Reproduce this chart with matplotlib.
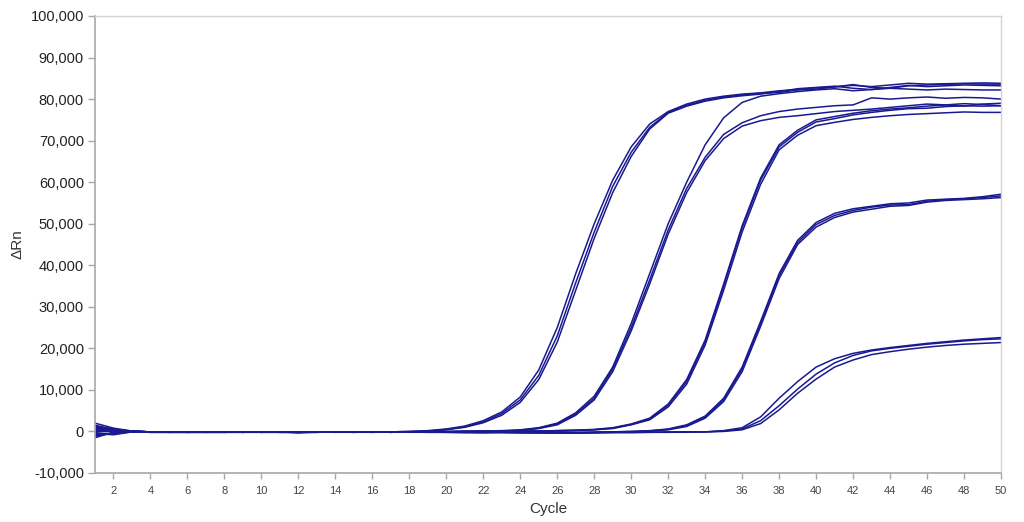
import matplotlib
matplotlib.use("Agg")
import matplotlib.pyplot as plt
from matplotlib.ticker import FuncFormatter
import numpy as np

cycles = list(range(1, 51))

# Delta Rn values in thousands, one list per well
A1 = [2.0,0.8,0.1,-0.2,-0.2,-0.2,-0.1,-0.1,-0.2,-0.2,-0.1,-0.3,-0.1,-0.1,-0.1,-0.1,-0.1,0.0,
      0.2,0.6,1.3,2.6,4.7,8.3,14.8,25.0,38.0,50.0,60.5,68.5,74.0,77.0,78.8,80.0,80.7,81.2,81.5,82.0,
      82.3,82.7,83.0,83.3,83.0,83.4,83.8,83.6,83.7,83.8,83.9,83.8]
A2 = [-0.8,-0.5,0.0,-0.1,-0.2,-0.2,-0.2,-0.1,-0.1,-0.2,-0.2,-0.2,-0.1,-0.1,-0.2,-0.1,-0.1,0.0,
      0.1,0.5,1.1,2.3,4.3,7.6,13.5,23.0,35.8,48.0,59.0,67.2,73.2,76.8,78.5,79.7,80.5,81.0,81.4,81.6,
      82.2,82.4,82.9,83.5,82.8,82.6,83.2,83.4,83.5,83.7,83.6,83.6]
A3 = [0.5,0.3,0.0,-0.1,-0.1,-0.2,-0.2,-0.2,-0.1,-0.1,-0.2,-0.2,-0.2,-0.1,-0.1,-0.1,-0.2,-0.1,
      0.0,0.4,1.0,2.1,3.9,7.0,12.5,21.5,34.0,46.5,57.5,66.2,72.8,76.6,78.3,79.5,80.3,80.8,81.2,81.8,
      82.5,82.8,83.1,82.6,82.3,82.8,83.3,83.0,83.2,83.4,83.3,83.2]
B1 = [1.5,0.5,0.1,-0.1,-0.1,-0.2,-0.1,-0.1,-0.1,-0.2,-0.1,-0.2,-0.1,-0.1,-0.1,-0.1,-0.1,-0.1,
      0.0,0.0,0.1,0.1,0.2,
      0.4,0.9,2.0,4.5,8.5,15.5,26.0,38.0,50.0,60.0,69.0,75.5,79.2,80.7,81.3,81.8,82.2,82.5,82.0,
      82.3,82.6,82.4,82.2,82.4,82.3,82.2,82.2]
B2 = [-1.2,-0.3,-0.1,-0.2,-0.2,-0.1,-0.2,-0.2,-0.1,-0.1,-0.2,-0.2,-0.1,-0.2,-0.2,-0.1,-0.1,-0.1,
      -0.1,0.0,0.0,0.1,0.1,
      0.3,0.8,1.8,4.2,8.0,15.0,25.0,36.5,48.5,58.5,66.0,71.5,74.3,76.0,77.0,77.6,78.0,78.4,78.6,
      80.3,80.0,80.3,80.5,80.2,80.4,80.3,80.0]
B3 = [0.0,0.2,0.0,-0.1,-0.2,-0.2,-0.1,-0.1,-0.2,-0.2,-0.1,-0.1,-0.2,-0.1,-0.1,-0.2,-0.1,-0.1,
      -0.1,-0.1,0.0,0.0,0.1,
      0.2,0.7,1.6,3.9,7.6,14.4,24.2,35.5,47.5,57.5,65.2,70.5,73.5,74.8,75.6,76.0,76.5,77.0,77.3,
      77.6,78.0,78.4,78.8,78.6,78.9,78.7,78.4]
C1 = [1.0,0.3,0.0,-0.1,-0.1,-0.1,-0.2,-0.2,-0.1,-0.1,-0.1,-0.2,-0.1,-0.1,-0.1,-0.2,-0.1,-0.1,
      0.0,-0.1,-0.1,0.0,0.0,0.1,0.1,0.2,0.3,0.5,
      0.9,1.8,3.2,6.6,12.5,22.0,35.5,49.5,61.0,69.0,72.5,75.0,75.8,76.6,77.2,77.6,77.9,78.3,78.6,
      78.3,78.8,79.0]
C2 = [-0.5,-0.8,-0.1,-0.2,-0.2,-0.1,-0.1,-0.2,-0.2,-0.1,-0.1,-0.3,-0.2,-0.1,-0.1,-0.1,-0.2,-0.1,
      -0.1,-0.1,0.0,0.0,0.0,0.0,0.1,0.2,0.3,0.4,
      0.8,1.7,3.0,6.3,12.0,21.5,35.0,49.0,60.5,68.5,72.0,74.5,75.3,76.2,76.8,77.3,77.7,77.8,78.2,
      78.4,78.3,78.4]
C3 = [0.3,0.0,0.0,-0.1,-0.1,-0.2,-0.2,-0.1,-0.1,-0.2,-0.2,-0.2,-0.1,-0.1,-0.2,-0.1,-0.1,-0.1,
      -0.1,-0.1,-0.1,0.0,0.0,0.0,0.1,0.1,0.2,0.4,
      0.7,1.6,2.8,5.9,11.4,20.8,34.0,48.0,59.5,67.8,71.3,73.6,74.4,75.1,75.6,76.0,76.3,76.5,76.7,
      76.9,76.8,76.8]
D1 = [-1.5,-0.2,0.0,-0.1,-0.2,-0.2,-0.1,-0.1,-0.2,-0.1,-0.1,-0.2,-0.2,-0.1,-0.1,-0.1,-0.2,-0.1,
      -0.1,-0.2,-0.2,-0.2,-0.1,-0.2,-0.2,-0.3,-0.3,-0.2,-0.1,0.0,0.2,
      0.6,1.6,3.7,8.0,15.5,26.5,38.0,46.0,50.3,52.5,53.6,54.2,54.8,55.0,55.7,55.9,56.1,56.5,57.1]
D2 = [0.8,0.4,0.1,-0.1,-0.1,-0.2,-0.2,-0.1,-0.1,-0.1,-0.2,-0.2,-0.1,-0.1,-0.2,-0.2,-0.1,-0.1,
      -0.1,-0.1,-0.2,-0.2,-0.2,-0.3,-0.3,-0.2,-0.2,-0.2,-0.1,0.0,0.1,
      0.5,1.4,3.5,7.6,15.0,26.0,37.5,45.5,49.8,52.0,53.2,54.0,54.5,54.6,55.4,55.8,56.0,56.3,56.7]
D3 = [-0.3,-0.6,-0.1,-0.2,-0.2,-0.1,-0.1,-0.2,-0.2,-0.1,-0.1,-0.2,-0.1,-0.2,-0.1,-0.1,-0.1,-0.1,
      -0.2,-0.2,-0.2,-0.3,-0.2,-0.2,-0.3,-0.4,-0.4,-0.3,-0.2,-0.1,0.1,
      0.4,1.2,3.2,7.2,14.4,25.3,36.8,45.0,49.2,51.5,52.8,53.5,54.2,54.4,55.2,55.6,55.8,56.0,56.3]
E1 = [1.2,0.6,0.0,-0.1,-0.1,-0.2,-0.2,-0.2,-0.1,-0.1,-0.1,-0.2,-0.1,-0.1,-0.2,-0.1,-0.1,-0.2,
      -0.2,-0.2,-0.3,-0.2,-0.2,-0.3,-0.3,-0.2,-0.3,-0.3,-0.2,-0.2,-0.2,-0.1,-0.1,-0.1,
      0.2,0.9,3.5,8.0,12.0,15.5,17.5,18.8,19.6,20.2,20.7,21.2,21.6,22.0,22.3,22.6]
E2 = [-1.0,-0.4,0.0,-0.1,-0.2,-0.2,-0.1,-0.1,-0.1,-0.2,-0.2,-0.2,-0.1,-0.1,-0.1,-0.2,-0.1,-0.1,
      -0.1,-0.2,-0.2,-0.3,-0.2,-0.2,-0.3,-0.4,-0.4,-0.3,-0.3,-0.2,-0.2,-0.2,-0.1,-0.1,
      0.1,0.6,2.6,6.2,10.2,13.8,16.5,18.3,19.4,20.0,20.5,21.0,21.4,21.8,22.1,22.3]
E3 = [0.2,-0.1,0.0,-0.1,-0.1,-0.1,-0.2,-0.2,-0.2,-0.1,-0.1,-0.2,-0.2,-0.1,-0.1,-0.1,-0.2,-0.1,
      -0.2,-0.2,-0.2,-0.2,-0.3,-0.3,-0.2,-0.3,-0.3,-0.2,-0.2,-0.3,-0.2,-0.2,-0.2,-0.1,
      0.0,0.4,1.9,5.2,9.2,12.6,15.5,17.2,18.5,19.2,19.8,20.3,20.7,21.0,21.2,21.4]

wells = [A1, A2, A3, B1, B2, B3, C1, C2, C3, D1, D2, D3, E1, E2, E3]

x_ticks = list(range(2, 51, 2))
y_ticks = list(range(-10000, 100001, 10000))

plt.rcParams['font.family'] = ['Liberation Sans', 'DejaVu Sans']

fig = plt.figure(figsize=(10.24, 5.22), dpi=100)
ax = fig.add_axes([95/1024, 1 - 473/522, (1001-95)/1024, (473-16)/522])

line_color = '#1a1a90'
for w in wells:
    ax.plot(cycles, np.array(w) * 1000, color=line_color, lw=1.1, solid_joinstyle='round')

ax.set_xlim(1, 50)
ax.set_ylim(-10000, 100000)
ax.set_xticks(x_ticks)
ax.set_yticks(y_ticks)
ax.yaxis.set_major_formatter(FuncFormatter(lambda v, p: f"{int(v):,}"))

for side in ['left', 'bottom']:
    ax.spines[side].set_color('#a8a8a8')
    ax.spines[side].set_linewidth(1.2)
for side in ['top', 'right']:
    ax.spines[side].set_color('#d4d4d4')
    ax.spines[side].set_linewidth(1.0)

ax.tick_params(axis='y', direction='out', length=5, width=1, color='#a8a8a8',
               labelsize=10.5, labelcolor='#222222', pad=3)
ax.tick_params(axis='x', direction='out', length=4, width=1, color='#a8a8a8',
               labelsize=8, labelcolor='#444444', pad=5)

ax.set_xlabel('Cycle', fontsize=11, color='#333333', labelpad=5)
ax.set_ylabel('ΔRn', fontsize=11, color='#333333', labelpad=4)

fig.savefig('out.png', dpi=100, facecolor='white')
